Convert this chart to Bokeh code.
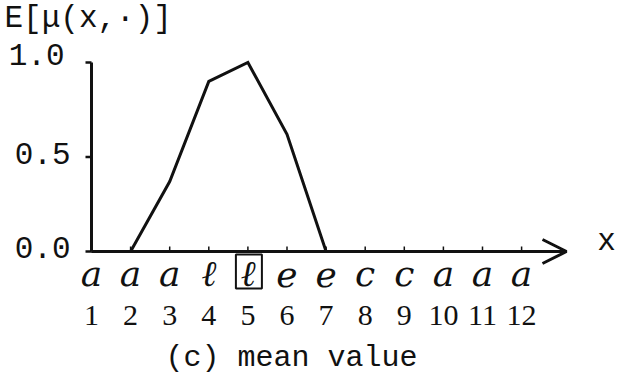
from bokeh.plotting import figure
from bokeh.models import Range1d, Arrow, OpenHead, Label
from bokeh.core.properties import value
from bokeh.embed import file_html
from bokeh.resources import INLINE

# data: mean membership E[mu(x, .)] for the twelve handwritten samples
x_vals = [1, 2, 3, 4, 5, 6, 7, 8, 9, 10, 11, 12]
mean_mu = [0.0, 0.0, 0.37, 0.9, 1.0, 0.62, 0.0, 0.0, 0.0, 0.0, 0.0, 0.0]
samples = ["a", "a", "a", "ℓ", "ℓ", "e", "e", "c", "c", "a", "a", "a"]
x_labels = ["1", "2", "3", "4", "5", "6", "7", "8", "9", "10", "11", "12"]
y_ticks = [0.0, 0.5, 1.0]
y_labels = ["0.0", "0.5", "1.0"]
boxed = 5

W, H = 617, 378
# screen geometry of the axes
X0_PX, DX_PX = 91.0, 39.1      # pixel of x=1 and pixels per unit
Y0_PX, DY_PX = 251.0, 189.0    # pixel (from top) of y=0 and pixels per unit


def dx(px):
    return px / DX_PX


def dy(px):
    return px / DY_PX


x_lo = 1 - X0_PX / DX_PX
x_hi = 1 + (W - X0_PX) / DX_PX
y_lo = -(H - Y0_PX) / DY_PX
y_hi = Y0_PX / DY_PX

p = figure(width=W, height=H, output_backend="svg", toolbar_location=None,
           x_range=Range1d(x_lo, x_hi), y_range=Range1d(y_lo, y_hi),
           x_axis_type=None, y_axis_type=None, min_border=0,
           background_fill_color="white", border_fill_color="white",
           outline_line_color=None)
p.grid.visible = False

MONO = "Liberation Mono"
mono = value(MONO)
ink = "#111111"

# y axis with short ticks pointing left
p.line([1, 1], [0, y_ticks[-1]], line_width=3, line_color=ink)
p.segment(x0=[1 - dx(6)] * len(y_ticks), y0=y_ticks, x1=[1] * len(y_ticks), y1=y_ticks,
          line_width=2.5, line_color=ink)
# the top label sits a little further out than the others
label_gap = [21, 21, 27]
label_lift = [4, 4, 8]
p.text(x=[1 - dx(g) for g in label_gap],
       y=[t + dy(l) for t, l in zip(y_ticks, label_lift)], text=y_labels,
       text_font=mono, text_font_size="31px", text_align="right",
       text_baseline="middle", text_color=ink)

# x axis with arrow head and small upward ticks
x_end = 1 + (566 - X0_PX) / DX_PX
p.add_layout(Arrow(end=OpenHead(size=24, line_width=3, line_color=ink),
                   x_start=1, y_start=0, x_end=x_end, y_end=0,
                   line_width=3, line_color=ink))
p.segment(x0=x_vals[1:], y0=[0] * 11, x1=x_vals[1:], y1=[dy(5)] * 11,
          line_width=1.5, line_color=ink)

# mean value curve
p.line(x_vals, mean_mu, line_width=3, line_color=ink, line_join="miter")

# handwritten samples and their indices
p.text(x=x_vals, y=[-dy(22)] * 12, text=samples,
       text_font=value("DejaVu Serif"), text_font_style="italic",
       text_font_size="36px", text_align="center", text_baseline="middle",
       text_color=ink)
p.rect(x=[boxed + dx(1)], y=[-dy(20)], width=26, height=34,
       width_units="screen", height_units="screen",
       fill_color=None, line_color=ink, line_width=2)
p.text(x=x_vals, y=[-dy(64)] * 12, text=x_labels,
       text_font=value("Liberation Serif"), text_font_size="30px",
       text_align="center", text_baseline="middle", text_color=ink)

# axis names and caption
p.add_layout(Label(x=4, y=H - 18, x_units="screen", y_units="screen",
                   text="E[μ(x,·)]", text_font=MONO, text_font_size="31px",
                   text_baseline="middle", text_color=ink))
p.add_layout(Label(x=606, y=H - 241, x_units="screen", y_units="screen",
                   text="x", text_font=MONO, text_font_size="31px",
                   text_align="center", text_baseline="middle", text_color=ink))
p.add_layout(Label(x=291, y=H - 357, x_units="screen", y_units="screen",
                   text="(c) mean value", text_font=MONO, text_font_size="30px",
                   text_align="center", text_baseline="middle", text_color=ink))

open("out.html", "w").write(file_html(p, INLINE))
